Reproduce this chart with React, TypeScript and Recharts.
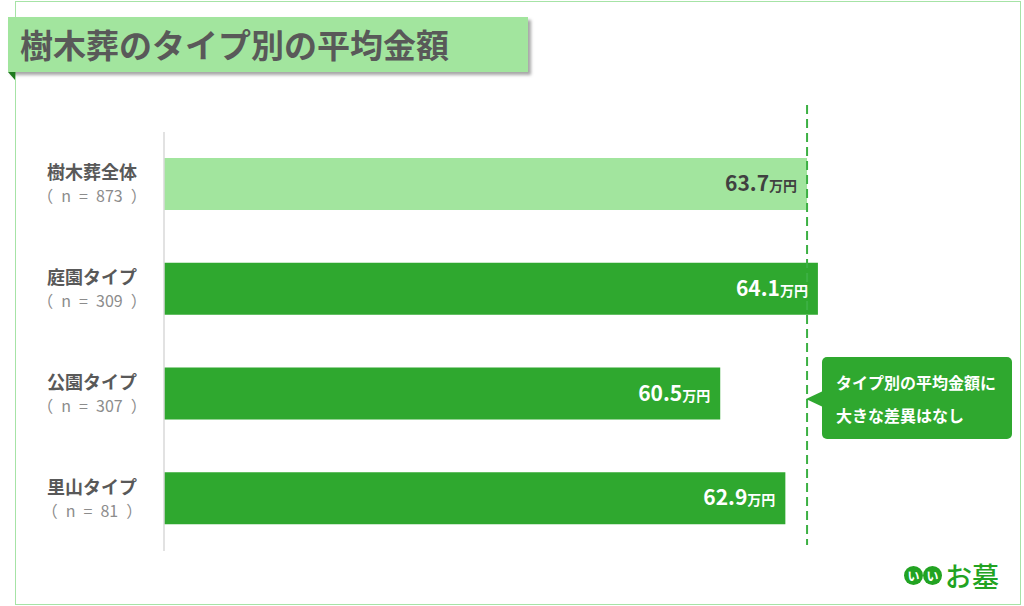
import { BarChart, Bar, XAxis, YAxis, Cell, LabelList, ReferenceLine } from 'recharts'

const categories = ['樹木葬全体', '庭園タイプ', '公園タイプ', '里山タイプ']
const sampleSizes = [873, 309, 307, 81]
const averages = [63.7, 64.1, 60.5, 62.9]
const overallAverage = 63.7

const LIGHT = '#a2e59e'
const DARK = '#2fa82f'
const FONT = '"Noto Sans CJK JP", "Noto Sans", sans-serif'

const data = categories.map((name, i) => ({ name, n: sampleSizes[i], value: averages[i] }))

const CategoryTick = ({ y, payload, index }: any) => {
  const n = data[index]?.n ?? data.find((d) => d.name === payload.value)?.n
  return (
    <g>
      <text x={92} y={y - 5} textAnchor="middle" fontSize={18} fontWeight={700} fill="#595959" fontFamily={FONT}>
        {payload.value}
      </text>
      <text x={92} y={y + 18} textAnchor="middle" fontSize={16} fill="#8c8c8c" fontFamily={FONT}>
        {`（\u2002n\u2002=\u2002${n}\u2002）`}
      </text>
    </g>
  )
}

const ValueLabel = ({ x, y, width, height, value, index }: any) => {
  const color = index === 0 ? '#404040' : '#ffffff'
  return (
    <text x={x + width - 10} y={y + height / 2 + 7} textAnchor="end" fill={color} fontFamily={FONT} fontWeight={700}>
      <tspan fontSize={21}>{value}</tspan>
      <tspan fontSize={14}>万円</tspan>
    </text>
  )
}

const DashedLine = (props: any) => {
  const top = Math.min(props.y1, props.y2)
  const bottom = Math.max(props.y1, props.y2)
  return (
    <line x1={props.x1} x2={props.x2} y1={top - 27} y2={bottom - 6} stroke="#3cb043" strokeWidth={2} strokeDasharray="9 5" />
  )
}

export default function App() {
  return (
    <div style={{ position: 'absolute', left: 0, top: 0, width: 1024, height: 606, background: '#fff', fontFamily: FONT, overflow: 'hidden' }}>
      <div style={{ position: 'absolute', left: 15, top: 1, width: 1004, height: 602, border: '1px solid #a6e3a6' }} />
      <BarChart
        width={1024}
        height={606}
        data={data}
        layout="vertical"
        margin={{ top: 132, right: 46, bottom: 55, left: 0 }}
        barCategoryGap={0}
      >
        <XAxis type="number" domain={[40, 70]} hide />
        <YAxis
          type="category"
          dataKey="name"
          width={164}
          axisLine={{ stroke: '#d9d9d9', strokeWidth: 1.5 }}
          tickLine={false}
          tick={<CategoryTick />}
        />
        <Bar dataKey="value" barSize={52} isAnimationActive={false}>
          {data.map((d, i) => (
            <Cell key={d.name} fill={i === 0 ? LIGHT : DARK} />
          ))}
          <LabelList dataKey="value" content={<ValueLabel />} />
        </Bar>
        <ReferenceLine x={overallAverage} ifOverflow="visible" shape={<DashedLine />} />
      </BarChart>

      <div style={{ position: 'absolute', left: 8, top: 17, width: 520, height: 55, background: '#a2e59e', boxShadow: '3px 3px 3px rgba(0,0,0,0.35)' }}>
        <div style={{ position: 'absolute', left: 12, top: 5, fontSize: 33, fontWeight: 700, color: '#595959', whiteSpace: 'nowrap', lineHeight: '44px' }}>
          樹木葬のタイプ別の平均金額
        </div>
      </div>
      <div style={{ position: 'absolute', left: 8, top: 72, width: 0, height: 0, borderTop: '8px solid #1f7a1f', borderLeft: '7px solid transparent' }} />

      <div style={{ position: 'absolute', left: 822, top: 357, width: 190, height: 82, background: DARK, borderRadius: 5, color: '#fff', fontSize: 16, fontWeight: 700 }}>
        <div style={{ position: 'absolute', left: 14, top: 9, lineHeight: '33px', whiteSpace: 'nowrap' }}>
          タイプ別の平均金額に
          <br />
          大きな差異はなし
        </div>
      </div>
      <div style={{ position: 'absolute', left: 806, top: 391, width: 0, height: 0, borderTop: '8px solid transparent', borderBottom: '8px solid transparent', borderRight: `17px solid ${DARK}` }} />

      <div style={{ position: 'absolute', left: 904, top: 562, display: 'flex', alignItems: 'center' }}>
        {['い', 'い'].map((c, i) => (
          <div key={i} style={{ width: 19, height: 19, borderRadius: 10, background: '#22a322', color: '#fff', fontSize: 12, fontWeight: 700, display: 'flex', alignItems: 'center', justifyContent: 'center', marginRight: i === 0 ? 0 : 3, lineHeight: 1 }}>
            {c}
          </div>
        ))}
        <span style={{ color: '#22a322', fontSize: 27, fontWeight: 500, lineHeight: 1 }}>お墓</span>
      </div>
    </div>
  )
}
